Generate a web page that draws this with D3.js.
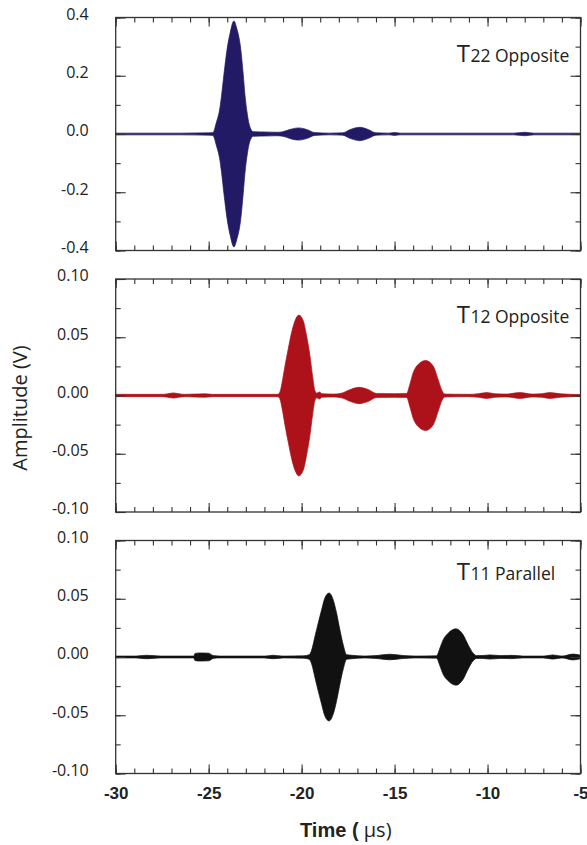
<!DOCTYPE html>
<html>
<head>
<meta charset="utf-8">
<script src="https://cdn.jsdelivr.net/npm/d3@7"></script>
<style>
  body { margin: 0; background: #fff; }
  text { fill: #222; }
</style>
</head>
<body>
<div id="chart"></div>
<script>
// envelope of each received waveform: [time (us), amplitude (V)]
var t22Envelope = [
  [-30, 0.003], [-26.5, 0.003], [-25.0, 0.004], [-24.77, 0.005], [-24.69, 0.015],
  [-24.61, 0.034], [-24.39, 0.092], [-24.30, 0.136], [-24.18, 0.204], [-24.00, 0.295],
  [-23.85, 0.346], [-23.64, 0.388], [-23.49, 0.363], [-23.28, 0.295], [-23.14, 0.204],
  [-23.05, 0.136], [-22.92, 0.068], [-22.78, 0.024], [-22.60, 0.008], [-22.0, 0.007],
  [-21.3, 0.006], [-21.0, 0.008], [-20.6, 0.016], [-20.18, 0.021], [-19.7, 0.015],
  [-19.3, 0.005], [-18.5, 0.003], [-17.8, 0.004], [-17.4, 0.015], [-16.87, 0.023],
  [-16.4, 0.015], [-16.0, 0.004], [-15.3, 0.003], [-15.0, 0.005], [-14.7, 0.003],
  [-12, 0.003], [-8.6, 0.003], [-8.0, 0.006], [-7.5, 0.003], [-5, 0.003]
];
var t12Envelope = [
  [-30, 0.001], [-27.5, 0.001], [-27.2, 0.0015], [-26.9, 0.0022], [-26.6, 0.0015],
  [-26.3, 0.001], [-25.8, 0.0012], [-25.2, 0.0015], [-24.8, 0.001], [-21.3, 0.001],
  [-21.20, 0.002], [-21.13, 0.005], [-21.02, 0.0138], [-20.90, 0.025], [-20.72, 0.040],
  [-20.54, 0.054], [-20.36, 0.064], [-20.15, 0.069], [-19.91, 0.064], [-19.73, 0.051],
  [-19.55, 0.034], [-19.41, 0.0166], [-19.28, 0.004], [-19.18, 0.002], [-19.05, 0.003],
  [-18.9, 0.0015], [-18.3, 0.0012], [-17.85, 0.002], [-17.4, 0.005], [-16.92, 0.007],
  [-16.4, 0.005], [-15.97, 0.0018], [-15.0, 0.0016], [-14.35, 0.0018], [-14.18, 0.0095],
  [-14.0, 0.0196], [-13.73, 0.0267], [-13.33, 0.030], [-12.925, 0.0253], [-12.66, 0.0138],
  [-12.47, 0.005], [-12.30, 0.0012], [-11.0, 0.001], [-10.5, 0.0015], [-10.05, 0.0025],
  [-9.6, 0.0015], [-9.0, 0.0012], [-8.26, 0.0025], [-7.6, 0.0012], [-7.1, 0.0015],
  [-6.65, 0.0025], [-6.1, 0.0015], [-5.0, 0.0008]
];
var t11Envelope = [
  [-30, 0.0008], [-28.9, 0.0008], [-28.6, 0.0012], [-28.33, 0.0015], [-28.0, 0.0012],
  [-27.6, 0.0008], [-25.8, 0.0008], [-25.74, 0.003], [-25.5, 0.0035], [-25.0, 0.0033],
  [-24.75, 0.0012], [-24.4, 0.0008], [-22.0, 0.0008], [-21.54, 0.0015], [-21.0, 0.0008],
  [-19.9, 0.001], [-19.59, 0.002], [-19.46, 0.006], [-19.285, 0.0175], [-19.11, 0.029],
  [-18.925, 0.0405], [-18.75, 0.0506], [-18.52, 0.0549], [-18.30, 0.049], [-18.12, 0.0377],
  [-17.94, 0.0233], [-17.76, 0.0103], [-17.58, 0.002], [-17.3, 0.0015], [-16.6, 0.0008],
  [-16.0, 0.0012], [-15.25, 0.0024], [-14.5, 0.0012], [-13.9, 0.0008], [-12.74, 0.001],
  [-12.565, 0.0075], [-12.39, 0.0147], [-12.12, 0.0204], [-11.70, 0.0242], [-11.31, 0.019],
  [-11.04, 0.0103], [-10.77, 0.0032], [-10.59, 0.0012], [-10.3, 0.0012], [-9.88, 0.0018],
  [-9.3, 0.0012], [-8.7, 0.0014], [-8.1, 0.0008], [-7.0, 0.0008], [-6.49, 0.0018],
  [-6.0, 0.0008], [-5.4, 0.0025], [-5.0, 0.0015]
];

// tick values and labels
var xTickValues = [-30, -25, -20, -15, -10, -5];
var xTickLabels = ["-30", "-25", "-20", "-15", "-10", "-5"];
var t22TickValues = [-0.4, -0.2, 0, 0.2, 0.4];
var t22TickLabels = ["-0.4", "-0.2", "0.0", "0.2", "0.4"];
var t1xTickValues = [-0.1, -0.05, 0, 0.05, 0.1];
var t1xTickLabels = ["-0.10", "-0.05", "0.00", "0.05", "0.10"];

var svgWidth = 587;
var svgHeight = 845;
var margin = { top: 17.5, right: 6.5, left: 115.7 };
var panelHeight = 233;
var panelGap = 28.5;
var width = svgWidth - margin.left - margin.right;

var panels = [
  { big: "T", small: "22 Opposite", color: "#231a66", data: t22Envelope,
    max: 0.4, minorStep: 0.1, ticks: t22TickValues, labels: t22TickLabels, labelDy: 44.8 },
  { big: "T", small: "12 Opposite", color: "#ad1119", data: t12Envelope,
    max: 0.1, minorStep: 0.025, ticks: t1xTickValues, labels: t1xTickLabels, labelDy: 44.3 },
  { big: "T", small: "11 Parallel", color: "#111111", data: t11Envelope,
    max: 0.1, minorStep: 0.025, ticks: t1xTickValues, labels: t1xTickLabels, labelDy: 39.3 }
];

var svg = d3.select("#chart")
  .append("svg")
  .attr("width", svgWidth)
  .attr("height", svgHeight);

var xScale = d3.scaleLinear()
  .domain([-30, -5])
  .range([0, width]);

var xMinor = d3.range(-30, -4.5, 1);

panels.forEach(function(p, i) {
  var top = margin.top + i * (panelHeight + panelGap);
  var g = svg.append("g")
    .attr("transform", `translate(${margin.left}, ${top})`);

  var yScale = d3.scaleLinear()
    .domain([-p.max, p.max])
    .range([panelHeight, 0]);

  var yMinor = d3.range(-p.max, p.max + p.minorStep / 2, p.minorStep);

  // filled envelope of the waveform
  var area = d3.area()
    .curve(d3.curveMonotoneX)
    .x(d => xScale(d[0]))
    .y0(d => yScale(-d[1]))
    .y1(d => yScale(d[1]));

  g.append("path")
    .datum(p.data)
    .attr("d", area)
    .attr("fill", p.color)
    .attr("stroke", p.color)
    .attr("stroke-width", 0.7);

  // minor ticks, inward on all four sides
  var minorAxes = [
    { axis: d3.axisBottom(xScale).tickValues(xMinor), y: panelHeight, x: 0 },
    { axis: d3.axisTop(xScale).tickValues(xMinor), y: 0, x: 0 },
    { axis: d3.axisLeft(yScale).tickValues(yMinor), y: 0, x: 0 },
    { axis: d3.axisRight(yScale).tickValues(yMinor), y: 0, x: width }
  ];
  minorAxes.forEach(function(m) {
    g.append("g")
      .attr("class", "minor")
      .attr("transform", `translate(${m.x}, ${m.y})`)
      .call(m.axis.tickSize(-5).tickFormat(""));
  });

  // major ticks
  var bottomAxis = d3.axisBottom(xScale)
    .tickValues(xTickValues)
    .tickSize(-9)
    .tickPadding(13)
    .tickFormat((d, j) => i === 2 ? xTickLabels[j] : "");
  var xAxis = g.append("g")
    .attr("transform", `translate(0, ${panelHeight})`)
    .call(bottomAxis);
  xAxis.selectAll("text")
    .attr("font-family", "'Liberation Sans', Arial, sans-serif")
    .attr("font-weight", "bold")
    .attr("font-size", 17)
    .attr("fill", "#111");

  g.append("g")
    .call(d3.axisTop(xScale).tickValues(xTickValues).tickSize(-9).tickFormat(""));

  var leftAxis = d3.axisLeft(yScale)
    .tickValues(p.ticks)
    .tickSize(-10)
    .tickPadding(27)
    .tickFormat((d, j) => p.labels[j]);
  var yAxis = g.append("g").call(leftAxis);
  yAxis.selectAll("text")
    .attr("font-family", "'Open Sans', sans-serif")
    .attr("font-size", 16)
    .attr("dy", "0.12em")
    .attr("fill", "#222");

  g.append("g")
    .attr("transform", `translate(${width}, 0)`)
    .call(d3.axisRight(yScale).tickValues(p.ticks).tickSize(-10).tickFormat(""));

  g.selectAll(".domain").remove();
  g.selectAll(".tick line")
    .attr("stroke", "#333")
    .attr("stroke-width", 1.1);

  // frame
  g.append("rect")
    .attr("width", width)
    .attr("height", panelHeight)
    .attr("fill", "none")
    .attr("stroke", "#333")
    .attr("stroke-width", 1.3);

  // panel label
  var label = g.append("text")
    .attr("x", 341)
    .attr("y", p.labelDy)
    .attr("font-family", "'Open Sans', sans-serif");
  label.append("tspan")
    .attr("font-size", 24)
    .text(p.big);
  label.append("tspan")
    .attr("font-size", 17.5)
    .attr("dx", 0.5)
    .text(p.small);
});

// axis titles
svg.append("text")
  .attr("transform", `translate(27, 408) rotate(-90)`)
  .attr("text-anchor", "middle")
  .attr("font-family", "'Open Sans', sans-serif")
  .attr("font-size", 20)
  .text("Amplitude (V)");

var xTitle = svg.append("text")
  .attr("x", 300)
  .attr("y", 837)
  .attr("font-size", 20);
xTitle.append("tspan")
  .attr("font-family", "'Liberation Sans', Arial, sans-serif")
  .attr("font-weight", "bold")
  .text("Time (");
xTitle.append("tspan")
  .attr("font-family", "'Open Sans', sans-serif")
  .text(" µs)");
</script>
</body>
</html>
